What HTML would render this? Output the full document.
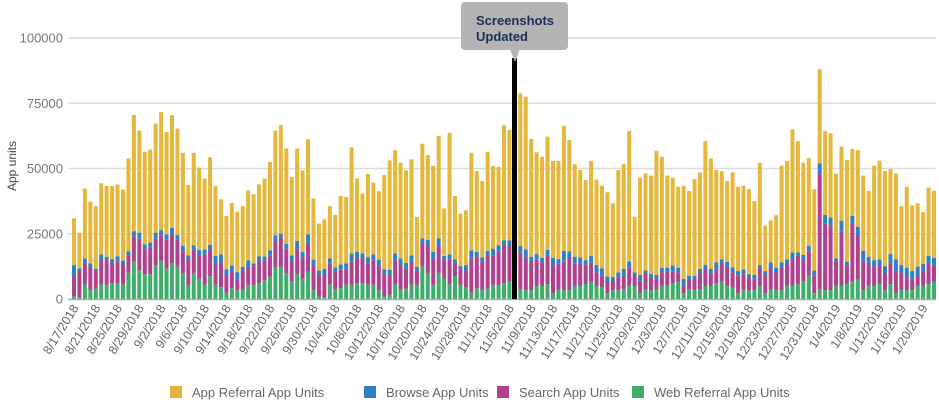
<!DOCTYPE html>
<html><head><meta charset="utf-8"><style>
html,body{margin:0;padding:0;background:#fff;}
svg{display:block;font-family:"Liberation Sans",sans-serif;}
</style></head><body>
<svg id="chart" width="939" height="408">
<g id="grid"></g>
<g id="yticks"></g>
<text transform="translate(16,166) rotate(-90)" text-anchor="middle" font-size="12" fill="#444">App units</text>
<g id="bars"></g>
<line x1="68" x2="936" y1="299.5" y2="299.5" stroke="#aaa" stroke-width="1.5"/>
<g id="xticks"></g>
<g>
<rect x="512" y="58" width="5" height="241" fill="#000"/>
<polygon points="510,49 520,49 515,62" fill="#b4b4b4"/>
<rect x="461" y="2" width="107" height="48" rx="4" fill="#b4b4b4"/>
<text x="476" y="25" font-size="13" font-weight="bold" fill="#1b2f57"><tspan x="476" y="25">Screenshots</tspan><tspan x="476" y="41">Updated</tspan></text>
</g>
<g id="legend"></g>
</svg>
<script>
const startDate = [2018, 7, 17];
const seriesNames = ["Web Referral App Units","Search App Units","Browse App Units","App Referral App Units"];
const seriesColors = ["#3fae6a","#b0418f","#2f80c4","#e5b73b"];
const yTicks = [0,25000,50000,75000,100000];
const web = [1,0.6,5.6,3.4,4,5.6,5.4,6.1,6.1,5.6,10,14.3,11,9.5,9.5,12.9,14.7,11.6,13.7,12.4,9.8,5.4,9.8,7.8,5.5,8.7,5.4,4.5,2.4,4.1,3.4,3.6,5.4,5.4,6.1,7.2,8.6,12.1,12.4,9.8,6.9,9.5,7.7,10.5,3.4,1,0.6,5.6,3.7,4.1,5.6,5.4,6,6,5.5,5.5,3.4,1,1.7,5.6,3.6,4,5.6,5.4,12.5,10,5.4,10,7.8,5.6,8.8,5.4,4.6,2.4,4.1,3.4,4,5.4,5.4,6.1,6.9,7,3.7,3.4,3.4,5,5,5.7,2.2,3.7,3.4,3.4,5,5,5.7,6.6,5,4.3,2.2,3.4,3.4,3.7,5,5,2.2,3.7,3.4,3.7,5,5,6,6.6,2.2,3.7,3.4,3.7,5,5,6,6.6,5,4.3,2.2,3.7,3.4,3.4,5,2.2,3.7,3.4,3.4,5,5,5.7,6.9,9.2,2.2,3.7,3.4,3.4,5,5,5.7,6.6,7.5,3.4,5,5,5.7,3.4,5.7,2.2,3.7,3.4,3.4,5,5,5.7,6.6];
const search = [7.6,10.1,8.2,8.9,6.5,9.6,9.4,7.8,8.1,7.6,6.5,9.7,12.1,9.8,10.2,10.2,10.1,11.1,11.1,10.3,8.3,9.7,9,8.7,11.6,10.3,7.8,9.4,6.8,6.6,4.1,7.3,6.9,7.2,8.3,7.6,7.9,10.1,11,9.5,7.8,10,8.3,10.8,9.6,8.5,8.6,8.1,6.8,7.1,6,8.9,10,9.5,8.2,9.4,9.2,8.5,7.1,9.5,9.4,7.6,9,5.5,9.2,10.7,10.1,10.7,7.1,9.5,5.1,6,6.3,13.2,12.1,10.9,12.5,11.3,12.9,14.2,13.4,13,14.2,12.4,11.2,10.2,9,11.2,10.6,10,10.9,12.3,8.7,8.4,7.6,7.3,5.2,4.6,4.7,3.5,4.9,5.2,7,4.2,4.8,5.9,4.8,3.8,5.2,5.5,4.5,3.6,3.2,3.6,4.4,6.1,6.1,4.8,5.5,6.8,7.4,5.8,6.7,5.8,4.9,3.9,6.7,7,8,6.8,8.7,8.4,10.2,10.9,8.3,8.9,6.7,44.4,25.6,24.8,9.3,20.8,7.1,22.4,17,11.2,8.9,7.4,7.3,6.4,8,8.3,6.5,4.9,3.9,4.2,5.9,7.7,6.2];
const browse = [4.4,1,1.7,1.4,1.1,1.9,1.4,1.4,2.1,1.5,1.8,2,2.3,1.6,1.9,2.3,1.6,2.1,2.5,1.8,2.2,1.6,1.8,2.3,1.9,1.8,3.3,3.2,2.2,2.2,2.8,1.4,2.5,1.1,1.9,1.5,2.1,2.2,1.6,1.9,2,2.8,2,3.5,2.1,1.4,2.3,1.8,1.6,2,2.1,3.2,2,2,2.3,2.2,2.5,1.9,2.4,2.4,2.5,2.2,2.1,1.4,1.5,2,2.6,2.5,1.6,2,1.3,1.2,2.1,3,1.9,1.7,2,2.6,2.3,2.2,2.2,2,2.4,3.2,1.6,2,1.8,1.9,3,1.6,4.2,2.6,2.5,2.6,1.6,2.6,2.8,2.8,1.7,1.5,1.9,2.6,2.4,1,2.2,1.3,1.4,1.7,1.8,1.5,2.3,1.8,2.3,1.5,1,1.7,1.9,1.7,2.5,1.8,1.8,2,1.8,1.9,1.2,1.9,1.3,1.5,2.3,1.8,1.9,1.8,2.6,1.2,1.7,2.2,2,3.9,3.2,3.1,1.3,4.2,1.5,2.8,3.2,3.9,2.3,2.5,2.2,2.8,3.5,4.7,2.8,3.7,3.4,3.2,2.5,3.1,3];
const appReferral = [17.9,13.7,26.8,23.6,24,27.2,27.1,28,27.6,27.3,35.6,44.5,39.1,35.5,35.7,41.8,45.2,39.2,43.2,40.8,35.7,27,35.4,31.6,27.2,33.5,26.8,21.1,20.4,23.9,23.2,23.3,26.8,26.4,27.6,29.8,33.9,40.1,41.7,36.5,30,35.4,31.3,36.4,23.5,18,19,20.1,20.1,26.3,25.4,40.6,28.2,22.9,31.9,27.5,26.2,36.1,41.9,39.5,36.7,35.5,36.8,19.1,36.3,32.5,32.9,39.3,18.2,46.6,24.3,20.1,21,37.4,30.9,29.2,37.9,31.7,30,44,42.3,45,58.5,58.5,45.1,39,38.7,43.4,37.1,37.6,47.9,42.6,35.4,33.4,30.7,36.4,32.8,31.7,32.3,28.3,39.2,40.2,50,21.3,37.3,37.2,37.7,47.6,42.5,35.3,33.7,31,35.7,32.6,37.2,37,47.5,42.4,35.4,33.8,31,36.4,32.3,32,32.6,28.3,39.2,17.4,16.1,20.1,37.1,37.7,47.2,42.7,35.3,33.6,31.2,36,32.2,32.2,32.5,28.4,39,25.7,29.4,28.8,25.2,36.2,37.8,36.4,32.6,32.9,22.6,31,25.2,24.3,19.9,26.2,25.6];
const series = [web, search, browse, appReferral];

const NS = "http://www.w3.org/2000/svg";
const x0 = 74, x1 = 934, yBase = 299, yTop = 38, yMax = 100000;
const n = web.length;
const step = (x1 - x0) / (n - 1);
function xScale(i){ return x0 + i * step; }
function yScale(v){ return yBase - (v / yMax) * (yBase - yTop); }

const grid = document.getElementById('grid');
const yt = document.getElementById('yticks');
yTicks.forEach(t => {
  const y = yScale(t);
  if (t > 0) {
    const l = document.createElementNS(NS,'line');
    l.setAttribute('x1',68); l.setAttribute('x2',936);
    l.setAttribute('y1',y); l.setAttribute('y2',y);
    l.setAttribute('stroke','#dcdcdc'); l.setAttribute('stroke-width','1.5');
    
    
    grid.appendChild(l);
  }
  const tx = document.createElementNS(NS,'text');
  tx.setAttribute('x',63); tx.setAttribute('y',y+4.5);
  tx.setAttribute('text-anchor','end'); tx.setAttribute('font-size','13'); tx.setAttribute('fill','#777');
  tx.textContent = String(t);
  
  
  yt.appendChild(tx);
});

const bars = document.getElementById('bars');
for (let i = 0; i < n; i++) {
  let cum = 0;
  for (let s = 0; s < series.length; s++) {
    const v = series[s][i] * 1000;
    const yA = yScale(cum), yB = yScale(cum + v);
    const r = document.createElementNS(NS,'rect');
    r.setAttribute('x', xScale(i) - 2);
    r.setAttribute('width', 4);
    r.setAttribute('y', yB);
    r.setAttribute('height', Math.max(0, yA - yB));
    r.setAttribute('fill', seriesColors[s]);
    
    
    bars.appendChild(r);
    cum += v;
  }
}

const xt = document.getElementById('xticks');
for (let i = 0; i < n; i += 4) {
  const d = new Date(startDate[0], startDate[1], startDate[2] + i);
  const label = (d.getMonth()+1) + '/' + d.getDate() + '/' + d.getFullYear();
  const tx = document.createElementNS(NS,'text');
  const x = xScale(i) + 5, y = 308;
  tx.setAttribute('transform','translate(' + x + ',' + y + ') rotate(-58)');
  tx.setAttribute('text-anchor','end'); tx.setAttribute('font-size','12.5'); tx.setAttribute('fill','#666');
  tx.textContent = label;
  
  
  xt.appendChild(tx);
}

const legendItems = [[3,170],[2,364],[1,497],[0,632]];
const lg = document.getElementById('legend');
legendItems.forEach(([s, x]) => {
  const g = document.createElementNS(NS,'g');
  
  
  const r = document.createElementNS(NS,'rect');
  r.setAttribute('x', x); r.setAttribute('y', 386); r.setAttribute('width', 12); r.setAttribute('height', 12);
  r.setAttribute('fill', seriesColors[s]);
  
  
  const t = document.createElementNS(NS,'text');
  t.setAttribute('x', x + 22); t.setAttribute('y', 397); t.setAttribute('font-size','13'); t.setAttribute('fill','#666');
  t.textContent = seriesNames[s];
  
  
  g.appendChild(r); g.appendChild(t); lg.appendChild(g);
});
</script>
</body></html>
